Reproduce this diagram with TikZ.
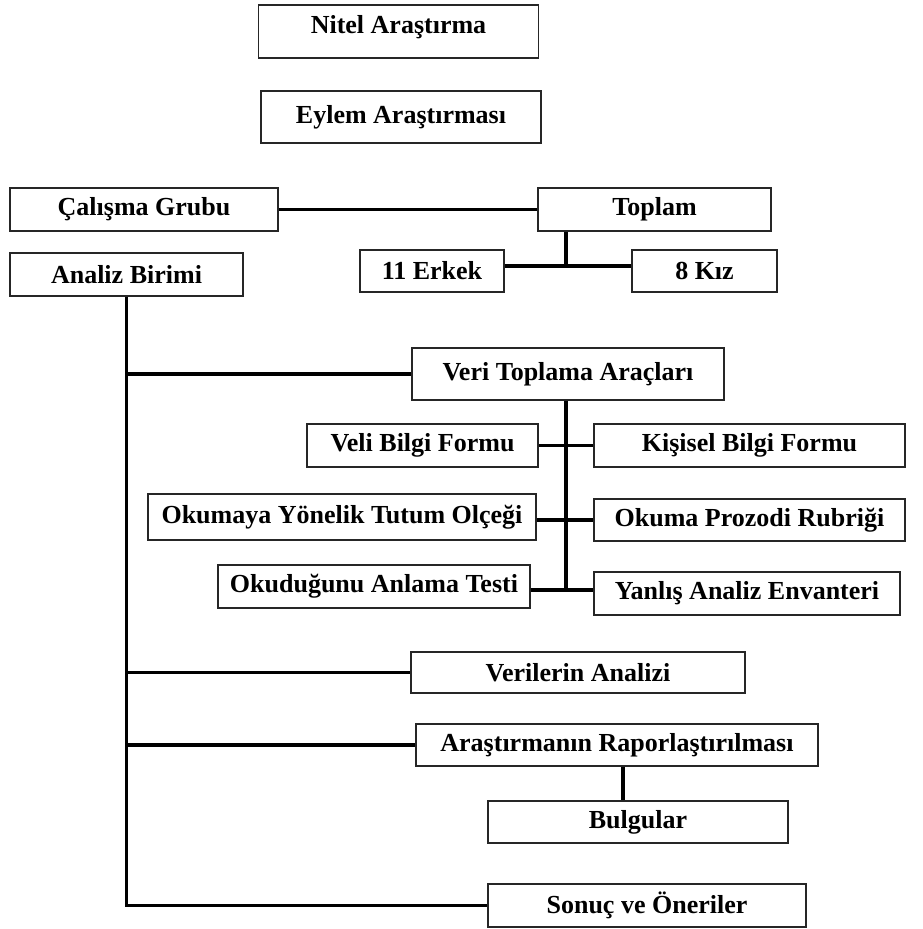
\documentclass[tikz,border=0pt]{standalone}
\usepackage{fontspec}
\setmainfont{Liberation Serif}
\begin{document}
\begin{tikzpicture}[
    x = 0.75pt, y = -0.75pt,
    cell/.style = {draw = black!85, line width = 0.9pt, fill = white,
                   font = \fontsize{19.5}{22}\selectfont\bfseries, inner sep = 0pt},
    dims/.style 2 args = {minimum width = #1*0.75pt, minimum height = #2*0.75pt},
    link/.style = {line width = 2.4pt}]

\useasboundingbox (0,0) rectangle (923,929);

% boxes
\node[cell, dims={280}{53}, text depth=10pt] (nitel) at (398.5,31.5) {Nitel Araştırma};
\node[cell, dims={280}{52}] (eylem) at (401,117) {Eylem Araştırması};
\node[cell, dims={268}{43}] (calisma) at (144,209.5) {Çalışma Grubu};
\node[cell, dims={233}{43}] (toplam) at (654.5,209.5) {Toplam};
\node[cell, dims={233}{43}] (analiz) at (126.5,274.5) {Analiz Birimi};
\node[cell, dims={144}{42}] (erkek) at (432,271) {11 Erkek};
\node[cell, dims={145}{42}] (kiz) at (704.5,271) {8 Kız};
\node[cell, dims={312}{52}] (veri) at (568,374) {Veri Toplama Araçları};
\node[cell, dims={231}{43}] (veli) at (422.5,445.5) {Veli Bilgi Formu};
\node[cell, dims={311}{43}] (kisisel) at (749.5,445.5) {Kişisel Bilgi Formu};
\node[cell, dims={388}{46}] (tutum) at (342,517) {Okumaya Yönelik Tutum Olçeği};
\node[cell, dims={311}{42}] (prozodi) at (749.5,520) {Okuma Prozodi Rubriği};
\node[cell, dims={312}{43}] (anlama) at (374,586.5) {Okuduğunu Anlama Testi};
\node[cell, dims={306}{43}] (yanlis) at (747,593.5) {Yanlış Analiz Envanteri};
\node[cell, dims={334}{41}] (verilerin) at (578,672.5) {Verilerin Analizi};
\node[cell, dims={402}{42}] (rapor) at (617,745) {Araştırmanın Raporlaştırılması};
\node[cell, dims={300}{42}] (bulgular) at (638,822) {Bulgular};
\node[cell, dims={318}{43}] (sonuc) at (647,905.5) {Sonuç ve Öneriler};

% links
\coordinate (tj) at (566,266);
\coordinate (vj) at (566,590);
\coordinate (bj) at (623,800);
\draw[link] (calisma) -- (toplam);
\draw[link] (toplam.south -| tj) -- (tj);
\draw[link] (erkek.east |- tj) -- (kiz.west |- tj);
\draw[link] (analiz) -- (analiz |- sonuc.west) -- (sonuc.west);
\foreach \n in {veri, verilerin, rapor}
    \draw[link] (analiz |- \n.west) -- (\n.west);
\draw[link] (veri.south -| vj) -- (vj);
\draw[link] (veli) -- (kisisel);
\draw[link] (tutum.east |- prozodi) -- (prozodi.west);
\draw[link] (anlama.east |- vj) -- (yanlis.west |- vj);
\draw[link] (rapor.south -| bj) -- (bulgular.north -| bj);
\end{tikzpicture}
\end{document}
